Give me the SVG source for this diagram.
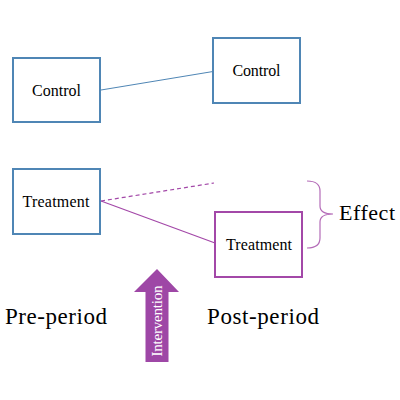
<svg xmlns="http://www.w3.org/2000/svg" width="400" height="400" viewBox="0 0 400 400">
<style>
.box{fill:#fff;stroke-width:2}
.blue{stroke:#4f86b5}
.purple{stroke:#a348a8}
.t{font-family:"Liberation Serif","DejaVu Serif",serif;fill:#000}
.small{font-size:16px}
.big{font-size:23px}
</style>
<rect width="400" height="400" fill="#fff"/>
<g id="connectors" fill="none">
<line x1="101" y1="90" x2="213" y2="71.5" stroke="#4f86b5" stroke-width="1"/>
<line x1="101" y1="201" x2="214" y2="183" stroke="#a348a8" stroke-width="1.2" stroke-dasharray="4,3"/>
<line x1="101" y1="201" x2="215" y2="243" stroke="#a348a8" stroke-width="1.2"/>
</g>
<g id="control-pre">
<rect class="box blue" x="13" y="58" width="87" height="64"/>
<text class="t small" x="56.5" y="96" text-anchor="middle" textLength="49">Control</text>
</g>
<g id="control-post">
<rect class="box blue" x="213" y="38" width="87" height="65"/>
<text class="t small" x="256.5" y="76" text-anchor="middle" textLength="48">Control</text>
</g>
<g id="treatment-pre">
<rect class="box blue" x="13" y="169" width="87" height="65"/>
<text class="t small" x="56" y="207" text-anchor="middle" textLength="67">Treatment</text>
</g>
<g id="treatment-post">
<rect class="box purple" x="215" y="212" width="87" height="65"/>
<text class="t small" x="259" y="250" text-anchor="middle" textLength="66">Treatment</text>
</g>
<g id="effect">
<path d="M307,181 Q320,181 320,191 L320,206 Q320,214 333,214 Q320,214 320,222 L320,238 Q320,248 307,248" fill="none" stroke="#b46cb8" stroke-width="1.2"/>
<text class="t" x="339" y="220" font-size="22" textLength="56">Effect</text>
</g>
<g id="intervention">
<path d="M157,269 L179,292 L168.5,292 L168.5,362 L145.5,362 L145.5,292 L134,292 Z" fill="#9e47a6"/>
<text class="t" x="0" y="0" font-size="15" fill="#fff" text-anchor="middle" textLength="71" transform="translate(162,321) rotate(-90)" style="fill:#fff">Intervention</text>
</g>
<g id="labels">
<text class="t big" x="5" y="324" textLength="102">Pre-period</text>
<text class="t big" x="207" y="324" textLength="112">Post-period</text>
</g>
</svg>
